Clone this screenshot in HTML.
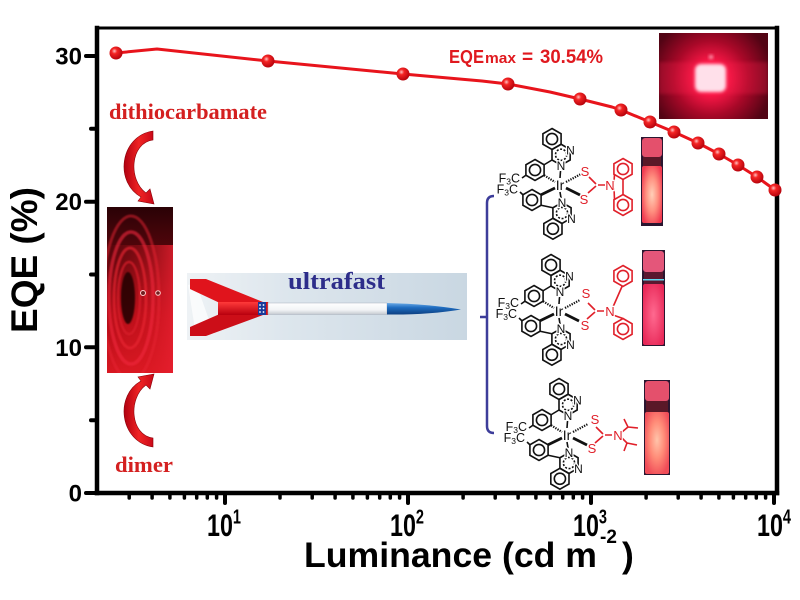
<!DOCTYPE html>
<html><head><meta charset="utf-8">
<style>html,body{margin:0;padding:0;background:#fff}svg{display:block}</style>
</head>
<body>
<svg width="800" height="600" viewBox="0 0 800 600" xmlns="http://www.w3.org/2000/svg">
<defs>
  <radialGradient id="ball" cx="0.38" cy="0.35" r="0.7">
    <stop offset="0" stop-color="#ffc0c0"/>
    <stop offset="0.3" stop-color="#f42424"/>
    <stop offset="1" stop-color="#b0000a"/>
  </radialGradient>
  <radialGradient id="glow" cx="711" cy="78" r="62" gradientUnits="userSpaceOnUse">
    <stop offset="0" stop-color="#ff6088"/>
    <stop offset="0.25" stop-color="#ff1848"/>
    <stop offset="0.6" stop-color="#a80828"/>
    <stop offset="1" stop-color="#520414"/>
  </radialGradient>
  <linearGradient id="rippleBg" x1="0" y1="0" x2="0" y2="1">
    <stop offset="0" stop-color="#2a0206"/>
    <stop offset="0.3" stop-color="#5a060c"/>
    <stop offset="0.65" stop-color="#b00c16"/>
    <stop offset="1" stop-color="#d81822"/>
  </linearGradient>
  <linearGradient id="rippleR" x1="0" y1="0" x2="1" y2="0">
    <stop offset="0" stop-color="#e01a24" stop-opacity="0"/>
    <stop offset="0.55" stop-color="#e01a24" stop-opacity="0.35"/>
    <stop offset="1" stop-color="#e82030" stop-opacity="0.8"/>
  </linearGradient>
  <linearGradient id="rbg" x1="0" y1="0" x2="1" y2="0">
    <stop offset="0" stop-color="#eef2f5"/>
    <stop offset="0.35" stop-color="#dde6ed"/>
    <stop offset="1" stop-color="#c9d7e2"/>
  </linearGradient>
  <linearGradient id="bodyg" x1="0" y1="0" x2="0" y2="1">
    <stop offset="0" stop-color="#ffffff"/>
    <stop offset="0.6" stop-color="#f2f4f6"/>
    <stop offset="1" stop-color="#c4c9d0"/>
  </linearGradient>
  <linearGradient id="noseg" x1="0" y1="0" x2="0" y2="1">
    <stop offset="0" stop-color="#6aaae6"/>
    <stop offset="0.4" stop-color="#1e6cc0"/>
    <stop offset="1" stop-color="#0d3f80"/>
  </linearGradient>
  <linearGradient id="redg" x1="0" y1="0" x2="0" y2="1">
    <stop offset="0" stop-color="#ff3a3a"/>
    <stop offset="1" stop-color="#b8000e"/>
  </linearGradient>
  <linearGradient id="arrowg" x1="0" y1="0" x2="1" y2="0">
    <stop offset="0" stop-color="#b00010"/>
    <stop offset="0.5" stop-color="#f02424"/>
    <stop offset="1" stop-color="#c80818"/>
  </linearGradient>
  <radialGradient id="vial1" cx="0.5" cy="0.5" r="0.6">
    <stop offset="0" stop-color="#ffd0b8"/>
    <stop offset="0.5" stop-color="#ff9080"/>
    <stop offset="1" stop-color="#f03a50"/>
  </radialGradient>
  <radialGradient id="vial2" cx="0.5" cy="0.5" r="0.6">
    <stop offset="0" stop-color="#ff6a90"/>
    <stop offset="1" stop-color="#e82858"/>
  </radialGradient>
  <radialGradient id="vial3" cx="0.5" cy="0.45" r="0.6">
    <stop offset="0" stop-color="#ffc4aa"/>
    <stop offset="0.5" stop-color="#ff8c78"/>
    <stop offset="1" stop-color="#f04c58"/>
  </radialGradient>
  <filter id="blur1" x="-50%" y="-50%" width="200%" height="200%"><feGaussianBlur stdDeviation="1.6"/></filter>
  <filter id="blur2" x="-20%" y="-20%" width="140%" height="140%"><feGaussianBlur stdDeviation="0.8"/></filter>
  <clipPath id="clipR"><rect x="107" y="207" width="66" height="166"/></clipPath>
  <clipPath id="clipP"><rect x="659" y="33" width="109" height="86"/></clipPath>
  <g id="hx"><polygon points="0,-10.5 9.09,-5.25 9.09,5.25 0,10.5 -9.09,5.25 -9.09,-5.25"/><circle r="5.6"/></g>
  <g id="hp"><polygon points="0,-10.5 9.09,-5.25 9.09,5.25 0,10.5 -9.09,5.25 -9.09,-5.25"/><circle r="5.6" stroke-dasharray="2,1.6"/></g>
</defs>

<!-- axes frame -->
<g stroke="#000" fill="none" stroke-linecap="square">
  <line x1="97" y1="28" x2="777" y2="28" stroke-width="3"/>
  <line x1="777" y1="28" x2="777" y2="493" stroke-width="4.5"/>
  <line x1="97" y1="28" x2="97" y2="493" stroke-width="4.5"/>
  <line x1="97" y1="493" x2="777" y2="493" stroke-width="4.5"/>
</g>
<g stroke="#000" stroke-width="4" stroke-linecap="round">
  <line x1="86" y1="493" x2="97" y2="493"/>
  <line x1="86" y1="347.3" x2="97" y2="347.3"/>
  <line x1="86" y1="201.7" x2="97" y2="201.7"/>
  <line x1="86" y1="56" x2="97" y2="56"/>
  <line x1="91" y1="420.2" x2="97" y2="420.2"/>
  <line x1="91" y1="274.5" x2="97" y2="274.5"/>
  <line x1="91" y1="128.8" x2="97" y2="128.8"/>
  <line x1="225" y1="493" x2="225" y2="503"/>
  <line x1="408" y1="493" x2="408" y2="503"/>
  <line x1="591" y1="493" x2="591" y2="503"/>
  <line x1="774" y1="493" x2="774" y2="503"/>
</g>
<g stroke="#000" stroke-width="3.5" stroke-linecap="round">
  <path d="M129.2,493v5M152.1,493v5M169.9,493v5M184.4,493v5M196.7,493v5M207.3,493v5M216.6,493v5
  M280,493v5M312.2,493v5M335.1,493v5M352.9,493v5M367.4,493v5M379.7,493v5M390.3,493v5M399.6,493v5
  M463.1,493v5M495.2,493v5M518.1,493v5M535.9,493v5M550.4,493v5M562.7,493v5M573.3,493v5M582.6,493v5
  M646.1,493v5M678.2,493v5M701.1,493v5M718.9,493v5M733.4,493v5M745.7,493v5M756.3,493v5M765.6,493v5"/>
</g>

<!-- y tick labels -->
<g font-family="Liberation Sans, Arial, sans-serif" font-weight="bold" font-size="24" fill="#000" text-anchor="end">
  <text x="82" y="64.5">30</text>
  <text x="82" y="210">20</text>
  <text x="82" y="355.8">10</text>
  <text x="82" y="501.5">0</text>
</g>
<!-- x tick labels -->
<g font-family="Liberation Sans, Arial, sans-serif" font-weight="bold" fill="#000">
  <g transform="translate(207,536) scale(0.97,1.33)"><text x="0" y="0" font-size="24">10<tspan font-size="15" dy="-9.5">1</tspan></text></g>
  <g transform="translate(390,536) scale(0.97,1.33)"><text x="0" y="0" font-size="24">10<tspan font-size="15" dy="-9.5">2</tspan></text></g>
  <g transform="translate(573,536) scale(0.97,1.33)"><text x="0" y="0" font-size="24">10<tspan font-size="15" dy="-9.5">3</tspan></text></g>
  <g transform="translate(757,536) scale(0.97,1.33)"><text x="0" y="0" font-size="24">10<tspan font-size="15" dy="-9.5">4</tspan></text></g>
</g>

<!-- axis titles -->
<g font-family="Liberation Sans, Arial, sans-serif" font-weight="bold" fill="#000">
  <text x="304" y="567" font-size="35.5" textLength="293" lengthAdjust="spacingAndGlyphs">Luminance (cd m</text>
  <text x="600" y="543" font-size="19">-2</text>
  <text x="622" y="567" font-size="35.5">)</text>
  <text x="37" y="260" font-size="37" text-anchor="middle" transform="rotate(-90 37 260)">EQE (%)</text>
</g>

<!-- left annotations -->
<text x="109" y="119" font-family="Liberation Serif, 'Times New Roman', serif" font-weight="bold" font-size="22" fill="#d42020" textLength="158" lengthAdjust="spacingAndGlyphs">dithiocarbamate</text>
<path d="M153,131 C120,136 114,182 141,197 L138,201 L154,204 L150,189 L146,193 C128,180 130,143 153,140 Z" fill="url(#arrowg)" stroke="#8a0008" stroke-width="0.6"/>
<g transform="translate(0,578) scale(1,-1)">
  <path d="M153,131 C120,136 114,182 141,197 L138,201 L154,204 L150,189 L146,193 C128,180 130,143 153,140 Z" fill="url(#arrowg)" stroke="#8a0008" stroke-width="0.6"/>
</g>
<text x="115" y="472" font-family="Liberation Serif, 'Times New Roman', serif" font-weight="bold" font-size="22" fill="#d42020" textLength="58" lengthAdjust="spacingAndGlyphs">dimer</text>

<!-- ripple image -->
<g clip-path="url(#clipR)">
  <rect x="107" y="207" width="66" height="166" fill="url(#rippleBg)"/>
  <rect x="107" y="245" width="66" height="128" fill="url(#rippleR)"/>
  <g fill="none" filter="url(#blur2)">
    <ellipse cx="131" cy="298" rx="28" ry="82" stroke="#e82232" stroke-width="3" opacity="0.5"/>
    <ellipse cx="131" cy="298" rx="22" ry="66" stroke="#f02a3a" stroke-width="3.5" opacity="0.6"/>
    <ellipse cx="130" cy="298" rx="16" ry="50" stroke="#e82232" stroke-width="3" opacity="0.65"/>
    <ellipse cx="129" cy="298" rx="11" ry="36" stroke="#d81a2a" stroke-width="2.5" opacity="0.7"/>
    <ellipse cx="128" cy="298" rx="7" ry="26" fill="#1e0002" stroke="none" opacity="0.85"/>
  </g>
  <circle cx="143" cy="293" r="2.5" fill="#702020" stroke="#ffd0d0" stroke-width="1"/>
  <circle cx="158" cy="293" r="2.3" fill="#702020" stroke="#ffd0d0" stroke-width="1"/>
</g>

<!-- rocket image -->
<rect x="187" y="273" width="280" height="67" fill="url(#rbg)"/>
<polygon points="188,285 196,283 214,334 196,336" fill="#ffffff" opacity="0.7"/>
<polygon points="190,279 206,279 263,302 222,304 190,289" fill="#e0141c"/>
<polygon points="190,336 206,336 263,315 222,313 190,327" fill="#cc0e18"/>
<rect x="218" y="302" width="42" height="13" fill="url(#redg)"/>
<rect x="258" y="302" width="8" height="13" fill="#1a3a9a"/>
<g fill="#fff"><circle cx="260" cy="305" r="0.9"/><circle cx="263.5" cy="305" r="0.9"/><circle cx="260" cy="308.5" r="0.9"/><circle cx="263.5" cy="308.5" r="0.9"/><circle cx="260" cy="312" r="0.9"/><circle cx="263.5" cy="312" r="0.9"/></g>
<rect x="266" y="302" width="2.2" height="13" fill="#d01018"/>
<rect x="268" y="303" width="119" height="11.5" fill="url(#bodyg)" stroke="#a8b0bc" stroke-width="0.5"/>
<path d="M387,303 Q428,304 461,309.5 Q428,315 387,314.5 Z" fill="url(#noseg)"/>
<text x="288" y="289" font-family="Liberation Serif, 'Times New Roman', serif" font-weight="bold" font-size="24" fill="#2d2d8a" textLength="97" lengthAdjust="spacingAndGlyphs">ultrafast</text>

<!-- bracket -->
<path d="M494,196 Q487,196 487,203 L487,426 Q487,433 494,433 M480,317 L487,317" fill="none" stroke="#3d3d9a" stroke-width="2.5"/>

<!-- Molecule 1 -->
<g transform="translate(560,185)" fill="none" stroke="#111" stroke-width="1.6">
  <use href="#hx" transform="translate(-8,-46)"/>
  <use href="#hp" transform="translate(1.09,-30.25)"/>
  <use href="#hx" transform="translate(-25,-15)"/>
  <use href="#hx" transform="translate(-28,15)"/>
  <use href="#hp" transform="translate(2,28)"/>
  <use href="#hx" transform="translate(-7.09,43.75)"/>
  <path d="M-8,-25 L-15.9,-20.25 M-18.9,20.25 L-7.09,22.75 M0.5,-14 L0,-7 M0,7 L1,13 M-34.1,-9.75 L-38,-7 M-37.1,9.75 L-40,7"/>
  <path d="M-15.9,-9.75 L-5,-3 M6,-3 L21,-11" stroke-dasharray="1.3,1.2" stroke-width="2.2"/>
  <path d="M-18.9,9.75 L-5,3 M6,3 L20,10" stroke-width="2.8"/>
  <g stroke="#e0202a">
    <path d="M29,-8 L36,-1 M28,8 L36,1 M38,0 L45,0 M54,-3 L54.5,-10.75 M54,3 L54.5,14.75 M63,-5.5 L63,9.5"/>
    <use href="#hx" transform="translate(63,-16)"/>
    <use href="#hx" transform="translate(63,20)"/>
  </g>
  <g stroke="#fff" stroke-width="2.5" paint-order="stroke" font-family="Liberation Sans, Arial, sans-serif" font-size="12" text-anchor="middle">
    <g fill="#111">
      <text x="10.5" y="-30.5">N</text>
      <text x="1" y="-15">N</text>
      <text x="2" y="22">N</text>
      <text x="11.5" y="38">N</text>
      <text x="0" y="5" font-size="14">Ir</text>
      <text x="-40" y="-2.5" font-size="12.5" text-anchor="end">F<tspan font-size="8.5" dy="2">3</tspan><tspan dy="-2">C</tspan></text>
      <text x="-42" y="8.5" font-size="12.5" text-anchor="end">F<tspan font-size="8.5" dy="2">3</tspan><tspan dy="-2">C</tspan></text>
    </g>
    <g fill="#e0202a" font-size="13">
      <text x="25" y="-9">S</text>
      <text x="24" y="19">S</text>
      <text x="50" y="5">N</text>
    </g>
  </g>
</g>

<!-- Molecule 2 -->
<g transform="translate(559,311)" fill="none" stroke="#111" stroke-width="1.6">
  <use href="#hx" transform="translate(-8,-46)"/>
  <use href="#hp" transform="translate(1.09,-30.25)"/>
  <use href="#hx" transform="translate(-25,-15)"/>
  <use href="#hx" transform="translate(-28,15)"/>
  <use href="#hp" transform="translate(2,28)"/>
  <use href="#hx" transform="translate(-7.09,43.75)"/>
  <path d="M-8,-25 L-15.9,-20.25 M-18.9,20.25 L-7.09,22.75 M0.5,-14 L0,-7 M0,7 L1,13 M-34.1,-9.75 L-38,-7 M-37.1,9.75 L-40,7"/>
  <path d="M-15.9,-9.75 L-5,-3 M6,-3 L21,-11" stroke-dasharray="1.3,1.2" stroke-width="2.2"/>
  <path d="M-18.9,9.75 L-5,3 M6,3 L20,10" stroke-width="2.8"/>
  <g stroke="#e0202a">
    <path d="M29,-8 L36,-1 M28,8 L36,1 M38,0 L45,0 M54,-4 L63,-24.5 M54,4 L64,7.5"/>
    <use href="#hx" transform="translate(64,-35)"/>
    <use href="#hx" transform="translate(64,18)"/>
  </g>
  <g stroke="#fff" stroke-width="2.5" paint-order="stroke" font-family="Liberation Sans, Arial, sans-serif" font-size="12" text-anchor="middle">
    <g fill="#111">
      <text x="10.5" y="-30.5">N</text>
      <text x="1" y="-15">N</text>
      <text x="2" y="22">N</text>
      <text x="11.5" y="38">N</text>
      <text x="0" y="5" font-size="14">Ir</text>
      <text x="-40" y="-4" font-size="12.5" text-anchor="end">F<tspan font-size="8.5" dy="2">3</tspan><tspan dy="-2">C</tspan></text>
      <text x="-42" y="7" font-size="12.5" text-anchor="end">F<tspan font-size="8.5" dy="2">3</tspan><tspan dy="-2">C</tspan></text>
    </g>
    <g fill="#e0202a" font-size="13">
      <text x="27" y="-13">S</text>
      <text x="26" y="19">S</text>
      <text x="51" y="5">N</text>
    </g>
  </g>
</g>

<!-- Molecule 3 -->
<g transform="translate(567,435)" fill="none" stroke="#111" stroke-width="1.6">
  <use href="#hx" transform="translate(-8,-46)"/>
  <use href="#hp" transform="translate(1.09,-30.25)"/>
  <use href="#hx" transform="translate(-25,-15)"/>
  <use href="#hx" transform="translate(-28,15)"/>
  <use href="#hp" transform="translate(2,28)"/>
  <use href="#hx" transform="translate(-7.09,43.75)"/>
  <path d="M-8,-25 L-15.9,-20.25 M-18.9,20.25 L-7.09,22.75 M0.5,-14 L0,-7 M0,7 L1,13 M-34.1,-9.75 L-38,-7 M-37.1,9.75 L-40,7"/>
  <path d="M-15.9,-9.75 L-5,-3 M6,-3 L21,-11" stroke-dasharray="1.3,1.2" stroke-width="2.2"/>
  <path d="M-18.9,9.75 L-5,3 M6,3 L20,10" stroke-width="2.8"/>
  <g stroke="#e0202a">
    <path d="M29,-8 L36,-1 M28,8 L36,1 M38,0 L45,0 M55,-3 L61,-8 L57,-16 M61,-8 L71,-7 M55,3 L60,8 L57,16 M60,8 L70,10"/>
  </g>
  <g stroke="#fff" stroke-width="2.5" paint-order="stroke" font-family="Liberation Sans, Arial, sans-serif" font-size="12" text-anchor="middle">
    <g fill="#111">
      <text x="10.5" y="-30.5">N</text>
      <text x="1" y="-15">N</text>
      <text x="2" y="22">N</text>
      <text x="11.5" y="38">N</text>
      <text x="0" y="5" font-size="14">Ir</text>
      <text x="-40" y="-4" font-size="12.5" text-anchor="end">F<tspan font-size="8.5" dy="2">3</tspan><tspan dy="-2">C</tspan></text>
      <text x="-42" y="7" font-size="12.5" text-anchor="end">F<tspan font-size="8.5" dy="2">3</tspan><tspan dy="-2">C</tspan></text>
    </g>
    <g fill="#e0202a" font-size="13">
      <text x="28" y="-11">S</text>
      <text x="25" y="18">S</text>
      <text x="51" y="5">N</text>
    </g>
  </g>
</g>

<!-- vials -->
<g>
  <rect x="641" y="137" width="22" height="89" fill="#2a1630"/>
  <rect x="642" y="138" width="20" height="19" rx="3" fill="#e4506c"/>
  <rect x="643" y="157" width="18" height="9" fill="#5a1828"/>
  <rect x="642" y="166" width="20" height="57" rx="2" fill="url(#vial1)"/>

  <rect x="642" y="250" width="23" height="96" fill="#2a1630"/>
  <rect x="643" y="251" width="21" height="21" rx="3" fill="#e4567a"/>
  <rect x="644" y="272" width="19" height="12" fill="#5a1830"/>
  <rect x="643" y="279" width="21" height="1.5" fill="#60d8f0"/>
  <rect x="643" y="284" width="21" height="61" rx="2" fill="url(#vial2)"/>

  <rect x="644" y="380" width="26" height="95" fill="#2a1630"/>
  <rect x="645" y="381" width="24" height="20" rx="3" fill="#e4506c"/>
  <rect x="646" y="401" width="22" height="11" fill="#5a1828"/>
  <rect x="645" y="412" width="24" height="62" rx="2" fill="url(#vial3)"/>
</g>

<!-- top-right photo -->
<g clip-path="url(#clipP)">
  <rect x="659" y="33" width="109" height="86" fill="url(#glow)"/>
  <rect x="659" y="62" width="109" height="32" fill="#ff2050" opacity="0.25" filter="url(#blur1)"/>
  <rect x="695" y="64" width="31" height="28" rx="6" fill="#ffe0ea" filter="url(#blur1)"/>
  <circle cx="711" cy="57" r="2" fill="#ffb0c0" filter="url(#blur1)"/>
</g>

<!-- EQEmax label -->
<g font-family="Liberation Sans, Arial, sans-serif" font-weight="bold" fill="#e0191f">
  <text x="449" y="63" font-size="18" textLength="35" lengthAdjust="spacingAndGlyphs">EQE</text>
  <text x="485" y="63" font-size="15" textLength="31" lengthAdjust="spacingAndGlyphs">max</text>
  <text x="522" y="63" font-size="19">=</text>
  <text x="540" y="63" font-size="19" textLength="63" lengthAdjust="spacingAndGlyphs">30.54%</text>
</g>

<!-- data series -->
<polyline points="116,53 157,49 268,61 403,74 482,81 508,84 550,92 580,99 612,107 621,110 650,122 674,132 698,143 719,154 738,165 757,177 775,190" fill="none" stroke="#e8141c" stroke-width="3" stroke-linejoin="round"/>
<g fill="url(#ball)">
  <circle cx="116" cy="53" r="6.5"/>
  <circle cx="268" cy="61" r="6.5"/>
  <circle cx="403" cy="74" r="6.5"/>
  <circle cx="508" cy="84" r="6.5"/>
  <circle cx="580" cy="99" r="6.5"/>
  <circle cx="621" cy="110" r="6.5"/>
  <circle cx="650" cy="122" r="6.5"/>
  <circle cx="674" cy="132" r="6.5"/>
  <circle cx="698" cy="143" r="6.5"/>
  <circle cx="719" cy="154" r="6.5"/>
  <circle cx="738" cy="165" r="6.5"/>
  <circle cx="757" cy="177" r="6.5"/>
  <circle cx="775" cy="190" r="6.5"/>
</g>
</svg>
</body>
</html>
